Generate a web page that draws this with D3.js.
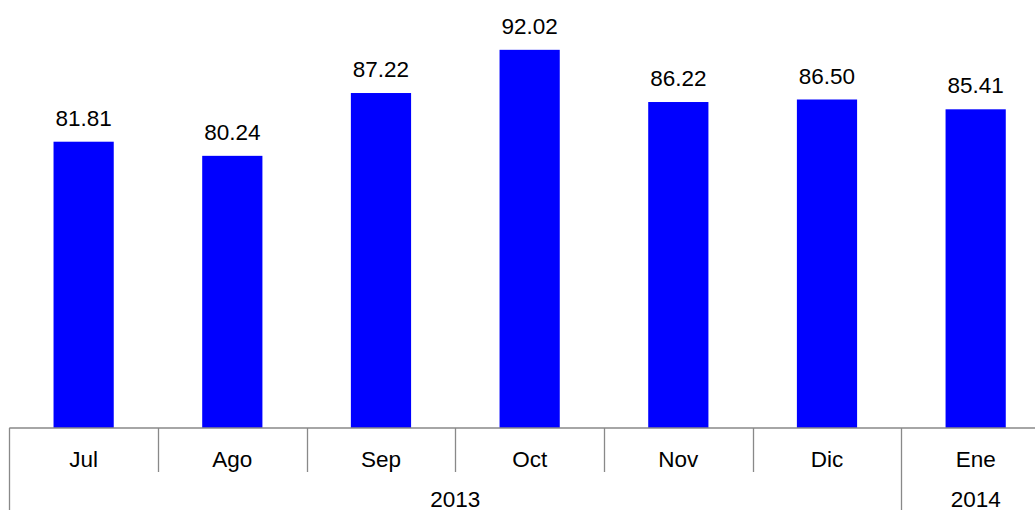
<!DOCTYPE html>
<html>
<head>
<meta charset="utf-8">
<script src="https://cdn.jsdelivr.net/npm/d3@7"></script>
<style>
  html, body { margin: 0; padding: 0; background: #fff; }
  svg { display: block; }
  text { font-family: "Liberation Sans", Arial, sans-serif; fill: #000; }
</style>
</head>
<body>
<svg id="chart" width="1035" height="510"></svg>
<script>
// data
const months = ['Jul', 'Ago', 'Sep', 'Oct', 'Nov', 'Dic', 'Ene'];
const values = [81.81, 80.24, 87.22, 92.02, 86.22, 86.50, 85.41];
const years = ['2013', '2014'];
const yearSpans = [['Jul', 'Dic'], ['Ene', 'Ene']];

const W = 1035, H = 510;
const axisY = 428;
const FONT = 22.5;

const svg = d3.select('#chart');

const x = d3.scaleBand().domain(months).range([9.3, 1050]).padding(0);
const y = d3.scaleLinear().domain([50, 100]).range([axisY, -22]);
const barW = x.bandwidth() * 0.405;

// bars
svg.append('g').selectAll('rect')
  .data(months)
  .join('rect')
  .attr('x', (d) => x(d) + (x.bandwidth() - barW) / 2)
  .attr('y', (d, i) => y(values[i]))
  .attr('width', barW)
  .attr('height', (d, i) => axisY - y(values[i]))
  .attr('fill', '#0000ff');

// value labels
svg.append('g').selectAll('text')
  .data(months)
  .join('text')
  .attr('x', (d) => x(d) + x.bandwidth() / 2)
  .attr('y', (d, i) => y(values[i]) - 16)
  .attr('text-anchor', 'middle')
  .attr('font-size', FONT)
  .text((d, i) => d3.format('.2f')(values[i]));

// category axis
const ax = svg.append('g').attr('stroke', '#898989').attr('stroke-width', 1.3);
ax.append('line')
  .attr('x1', x.range()[0]).attr('x2', W)
  .attr('y1', axisY).attr('y2', axisY);

// month dividers (short), year boundaries (long)
const yearStarts = yearSpans.map(s => s[0]);
months.forEach((m) => {
  const long = yearStarts.includes(m);
  ax.append('line')
    .attr('x1', Math.round(x(m)) + 0.5).attr('x2', Math.round(x(m)) + 0.5)
    .attr('y1', axisY).attr('y2', long ? H : 472);
});

// month labels
svg.append('g').selectAll('text')
  .data(months)
  .join('text')
  .attr('x', (d) => x(d) + x.bandwidth() / 2)
  .attr('y', 467)
  .attr('text-anchor', 'middle')
  .attr('font-size', FONT)
  .text(d => d);

// year labels
svg.append('g').selectAll('text')
  .data(years)
  .join('text')
  .attr('x', (d, i) => {
    const a = x(yearSpans[i][0]);
    const b = x(yearSpans[i][1]) + x.bandwidth();
    return (a + b) / 2;
  })
  .attr('y', 507)
  .attr('text-anchor', 'middle')
  .attr('font-size', FONT)
  .text(d => d);
</script>
</body>
</html>
